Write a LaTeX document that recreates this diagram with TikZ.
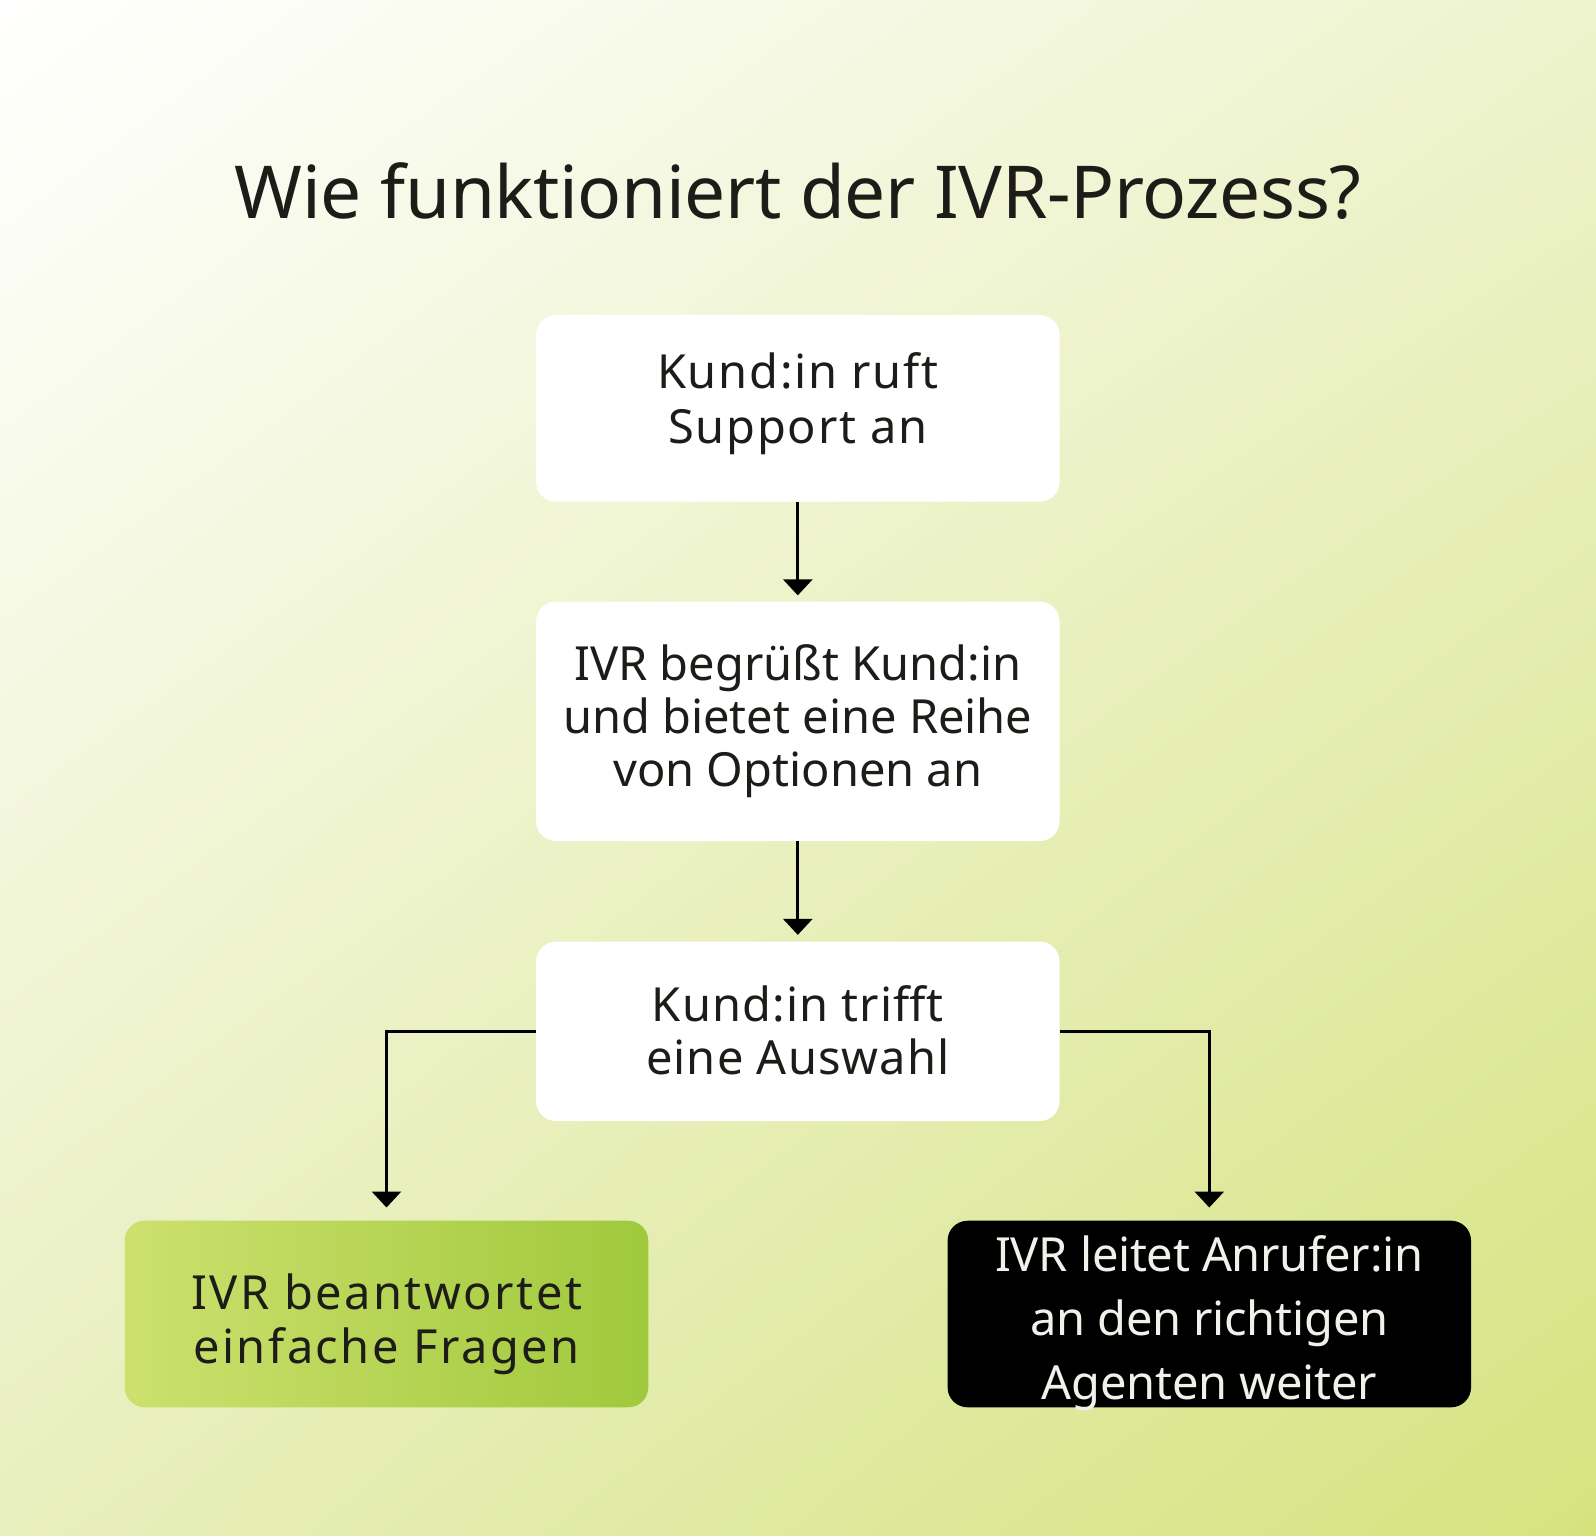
\documentclass[tikz,border=0pt]{standalone}
\usepackage{fontspec}
\setmainfont{Noto Sans}
\usetikzlibrary{arrows.meta,shadings}
\definecolor{txt}{HTML}{1E1C18}
\definecolor{bgUR}{HTML}{EDF3CD}
\definecolor{bgLL}{HTML}{E8EFBE}
\definecolor{bgLR}{HTML}{D5E37E}
\definecolor{grL}{HTML}{CDE06E}
\definecolor{grR}{HTML}{A0C93C}
\definecolor{wtxt}{HTML}{F2F0EA}
\tikzset{
  boxbase/.style={rounded corners=20pt, minimum width=523.5pt, inner sep=0pt},
  whitebox/.style={boxbase, fill=white},
  greenbox/.style={boxbase, left color=grL, right color=grR},
  blackbox/.style={boxbase, fill=black},
  boxtext/.style={align=center, inner sep=0pt, text=txt},
  conn/.style={line width=3pt, draw=black, -{Triangle[width=29pt,length=16pt]}},
}
\begin{document}
\begin{tikzpicture}[x=1pt,y=-1pt]
\useasboundingbox (0,0) rectangle (1596,1535);
\shade[upper left=white, upper right=bgUR, lower left=bgLL, lower right=bgLR] (0,0) rectangle (1596,1535);
\node[text=txt, font=\addfontfeature{LetterSpace=-0.5}\fontsize{73}{80}\selectfont, anchor=base] (title) at (798,218.3) {Wie funktioniert der IVR-Prozess?};
% boxes
\node[whitebox, minimum height=186.7pt] (b1) at (797.8,408.3) {};
\node[whitebox, minimum height=239.5pt] (b2) at (797.8,721.3) {};
\node[whitebox, minimum height=179.5pt] (b3) at (797.8,1031.3) {};
\node[greenbox, minimum height=186.6pt] (g) at (386.5,1314) {};
\node[blackbox, minimum height=186.6pt] (k) at (1209.3,1314) {};
% texts
\node[boxtext, font=\addfontfeature{LetterSpace=3.8}\fontsize{47}{55}\selectfont] (b1t) at (797.8,403.6) {Kund:in ruft\\Support an};
\node[boxtext, font=\fontsize{47}{53}\selectfont] (b2t) at (797.8,721.5) {IVR begrüßt Kund:in\\und bietet eine Reihe\\von Optionen an};
\node[boxtext, font=\addfontfeature{LetterSpace=2.3}\fontsize{47}{53}\selectfont] (b3t) at (797.8,1030.7) {Kund:in trifft\\eine Auswahl};
\node[boxtext, font=\addfontfeature{LetterSpace=5.3}\fontsize{47}{54}\selectfont] (gt) at (386.5,1324) {IVR beantwortet\\einfache Fragen};
\node[boxtext, text=wtxt, font=\addfontfeature{LetterSpace=-0.5}\fontsize{47}{64}\selectfont] (kt) at (1209.3,1323) {IVR leitet Anrufer:in\\an den richtigen\\Agenten weiter};
% connectors
\draw[conn, shorten >=6pt] (b1) -- (b2);
\draw[conn, shorten >=6.5pt] (b2) -- (b3);
\draw[conn, shorten >=13pt] (b3.west) -| (g.north);
\draw[conn, shorten >=13pt] (b3.east) -| (k.north);
\end{tikzpicture}
\end{document}
